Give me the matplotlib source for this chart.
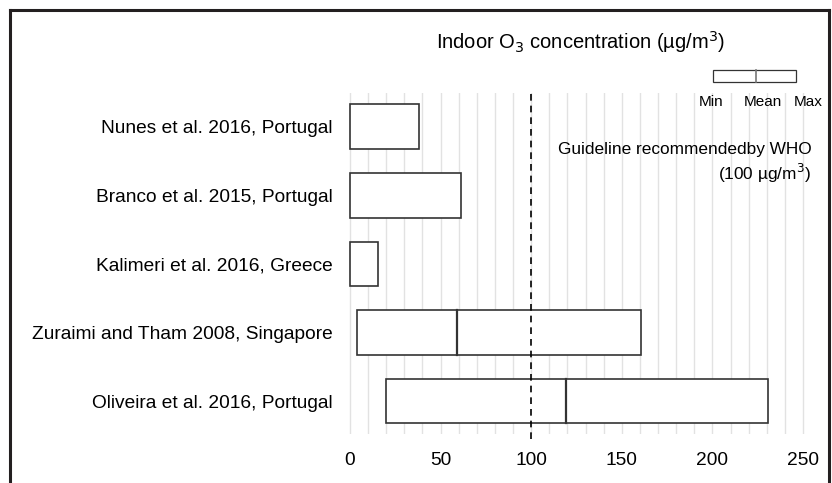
import matplotlib
matplotlib.use('Agg')
import matplotlib.pyplot as plt
from matplotlib.lines import Line2D
from matplotlib.patches import Rectangle

plt.rcParams['font.family'] = ['Liberation Sans', 'DejaVu Sans']

# datos (de abajo hacia arriba)
studies = ['Oliveira et al. 2016, Portugal', 'Zuraimi and Tham 2008, Singapore',
           'Kalimeri et al. 2016, Greece', 'Branco et al. 2015, Portugal',
           'Nunes et al. 2016, Portugal']
o3_min = [19.7, 4, 0, 0, 0]
o3_mean = [119, 59, None, None, None]
o3_max = [230.5, 160.5, 15.5, 61, 38]
who_limit = 100
xticks = [0, 50, 100, 150, 200, 250]

edge = '#333333'
fig = plt.figure(figsize=(8.32, 4.83), dpi=100)
ax = fig.add_axes([348.2 / 832, 49 / 483, (804.8 - 348.2) / 832, 341 / 483])

for i, (lo, me, hi) in enumerate(zip(o3_min, o3_mean, o3_max)):
    ax.add_patch(Rectangle((lo, i - 0.325), hi - lo, 0.65, facecolor='white',
                           edgecolor=edge, linewidth=1.2, zorder=3))
    if me is not None:
        ax.plot([me, me], [i - 0.325, i + 0.325], color=edge, lw=1.6, zorder=4)

# grilla cada 10
for g in range(0, 251, 10):
    ax.axvline(g, color='#e2e2e2', lw=1.0, zorder=0)

ax.plot([who_limit, who_limit], [-0.55, 4.49], color='black', lw=1.2,
        dashes=(4, 3), zorder=5, clip_on=False)

ax.set_xlim(-1, 251)
ax.set_ylim(-0.48, 4.49)
ax.set_xticks(xticks)
ax.set_yticks(range(len(studies)))
ax.set_yticklabels(studies, fontsize=13.8)
ax.tick_params(axis='x', labelsize=13.8, length=0, pad=13)
ax.tick_params(axis='y', length=0, pad=11)
for s in ax.spines.values():
    s.set_visible(False)

fig.text(0.698, 0.913, 'Indoor O$_3$ concentration (µg/m$^3$)', ha='center',
         va='center', fontsize=14.5)
ax.text(1.016, 0.833, 'Guideline recommendedby WHO', transform=ax.transAxes,
        ha='right', va='center', fontsize=12.4)
ax.text(1.014, 0.763, '(100 µg/m$^3$)', transform=ax.transAxes,
        ha='right', va='center', fontsize=12.4)

# leyenda min/mean/max
ax.add_patch(Rectangle((200.3, 4.65), 45.7, 0.17, facecolor='white',
                       edgecolor=edge, lw=0.9, clip_on=False))
ax.plot([224, 224], [4.65, 4.82], color='#777777', lw=1.2, clip_on=False)
for x, t in zip([199, 228, 253], ['Min', 'Mean', 'Max']):
    ax.text(x, 4.36, t, ha='center', va='center', fontsize=11, clip_on=False)

# marco de la figura
bc = '#231f20'
fig.add_artist(Line2D([10 / 832, 10 / 832], [0, 473 / 483], color=bc, lw=2.2))
fig.add_artist(Line2D([10 / 832, 829 / 832], [473 / 483, 473 / 483], color=bc, lw=2.2))
fig.add_artist(Line2D([829 / 832, 829 / 832], [0, 473 / 483], color=bc, lw=2.2))

plt.savefig('out.png')
